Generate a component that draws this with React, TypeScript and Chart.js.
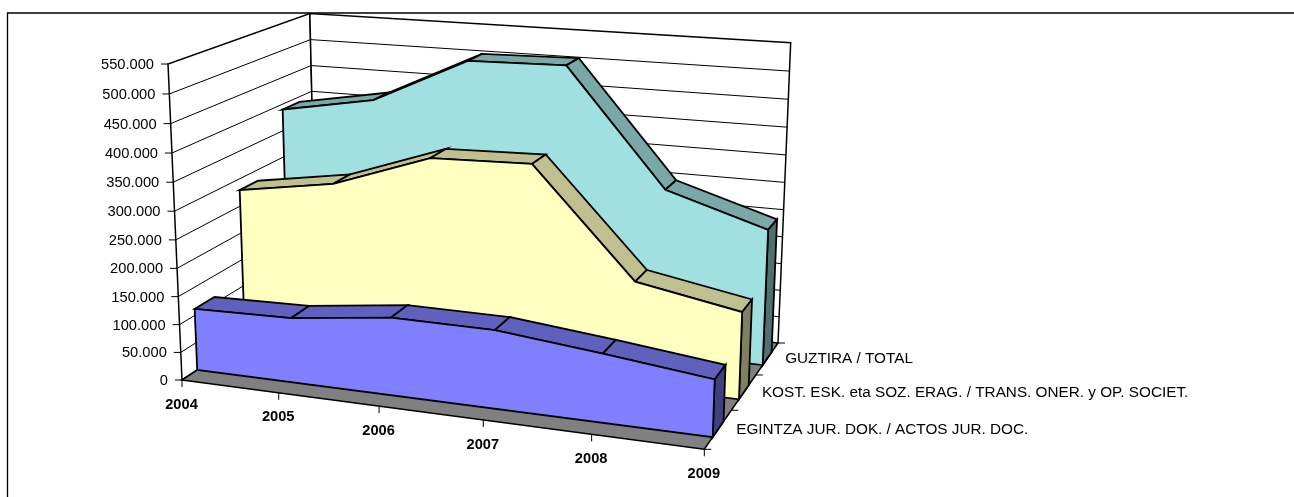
import React, { useEffect, useRef } from "react";
import { Chart, registerables } from "chart.js";

Chart.register(...registerables);

const years = ["2004", "2005", "2006", "2007", "2008", "2009"];
const egintza = [111500, 115500, 137000, 136500, 118000, 97000];
const kost = [279500, 307000, 368500, 373500, 186000, 153000];
const guztira = [390000, 421000, 505000, 509000, 301000, 246000];
const seriesNames = [
  "EGINTZA JUR. DOK. / ACTOS JUR. DOC.",
  "KOST. ESK. eta SOZ. ERAG. / TRANS. ONER. y OP. SOCIET.",
  "GUZTIRA / TOTAL",
];
const valueTicks = [0, 50000, 100000, 150000, 200000, 250000, 300000, 350000, 400000, 450000, 500000, 550000];
const valueTickLabels = ["0", "50.000", "100.000", "150.000", "200.000", "250.000", "300.000", "350.000", "400.000", "450.000", "500.000", "550.000"];

const W = 1294;
const H = 497;
const VMAX = 550000;
const FONT = '14.67px "Liberation Sans", Arial, sans-serif';
const FONT_SERIES = '15.3px "Liberation Sans", Arial, sans-serif';
const FONT_BOLD = 'bold 14.67px "Liberation Sans", Arial, sans-serif';

// box geometry: floor corners and the vanishing point of the vertical axis
const F00 = [182, 380];
const F10 = [704.3, 449.3];
const F11 = [778, 343];
const F01 = [316.6, 291];
const VP = [486.4, 7252];
const LAMBDA = -0.04396;

function makeProjection() {
  const [x0, y0] = F00, [x1, y1] = F10, [x2, y2] = F11, [x3, y3] = F01;
  const dx1 = x1 - x2, dx2 = x3 - x2, sx = x0 - x1 + x2 - x3;
  const dy1 = y1 - y2, dy2 = y3 - y2, sy = y0 - y1 + y2 - y3;
  const den = dx1 * dy2 - dx2 * dy1;
  const g = (sx * dy2 - dx2 * sy) / den;
  const h = (dx1 * sy - sx * dy1) / den;
  const a = x1 - x0 + g * x1, b = x3 - x0 + h * x3;
  const d = y1 - y0 + g * y1, e = y3 - y0 + h * y3;
  return (u: number, t: number, v: number) => {
    const z = (v / VMAX) * LAMBDA;
    const w = g * u + h * t + 1 + z;
    return {
      x: (a * u + b * t + x0 + z * VP[0]) / w,
      y: (d * u + e * t + y0 + z * VP[1]) / w,
    };
  };
}
const project = makeProjection();

type Layer = { pts: { x: number; y: number }[]; fill?: string; border: string; width: number };

function buildLayers(): Layer[] {
  const layers: Layer[] = [];
  const closed = (pts: { x: number; y: number }[]) => [...pts, pts[0], pts[1]];
  const last = years.length - 1;
  const uOf = (i: number) => i / last;

  // walls
  layers.push({ pts: closed([project(0, 0, 0), project(0, 1, 0), project(0, 1, VMAX), project(0, 0, VMAX)]), fill: "#ffffff", border: "#000000", width: 1.5 });
  layers.push({ pts: closed([project(0, 1, 0), project(1, 1, 0), project(1, 1, VMAX), project(0, 1, VMAX)]), fill: "#ffffff", border: "#000000", width: 1.5 });
  // grid
  valueTicks.slice(1, -1).forEach((t) => {
    layers.push({ pts: [project(0, 0, t), project(0, 1, t), project(1, 1, t)], border: "#000000", width: 1 });
  });
  // floor
  layers.push({ pts: closed([project(0, 0, 0), project(1, 0, 0), project(1, 1, 0), project(0, 1, 0)]), fill: "#808080", border: "#000000", width: 1.5 });

  const series = [
    { values: guztira, k: 2, face: "#A0E0E0", top: "#78A8A8", side: "#507070" },
    { values: kost, k: 1, face: "#FFFFC0", top: "#BFBF90", side: "#808060" },
    { values: egintza, k: 0, face: "#8080FF", top: "#6060BF", side: "#404080" },
  ];
  series.forEach(({ values, k, face, top, side }) => {
    const df = (k + 0.3) / 3;
    const db = (k + 0.7) / 3;
    for (let i = 0; i < last; i++) {
      layers.push({
        pts: closed([project(uOf(i), df, values[i]), project(uOf(i + 1), df, values[i + 1]), project(uOf(i + 1), db, values[i + 1]), project(uOf(i), db, values[i])]),
        fill: top, border: "#000000", width: 1.8,
      });
    }
    layers.push({
      pts: closed([project(1, df, 0), project(1, db, 0), project(1, db, values[last]), project(1, df, values[last])]),
      fill: side, border: "#000000", width: 1.8,
    });
    layers.push({
      pts: closed([project(0, df, 0), ...values.map((v, i) => project(uOf(i), df, v)), project(1, df, 0)]),
      fill: face, border: "#000000", width: 1.8,
    });
  });
  return layers;
}

const decor = {
  id: "decor",
  beforeDatasetsDraw(chart: any) {
    const c = chart.ctx;
    c.save();
    c.strokeStyle = "#000";
    c.lineWidth = 1.3;
    c.beginPath();
    c.moveTo(7.5, H);
    c.lineTo(7.5, 13);
    c.lineTo(W, 13);
    c.stroke();
    c.restore();
  },
  afterDatasetsDraw(chart: any) {
    const c = chart.ctx;
    c.save();
    c.strokeStyle = "#000";
    c.fillStyle = "#000";
    c.lineWidth = 1;
    const seg = (x1: number, y1: number, x2: number, y2: number) => {
      c.beginPath();
      c.moveTo(x1, y1);
      c.lineTo(x2, y2);
      c.stroke();
    };
    // value axis
    c.font = FONT;
    c.textAlign = "right";
    c.textBaseline = "middle";
    valueTicks.forEach((t, i) => {
      const p = project(0, 0, t);
      seg(p.x - 7, p.y, p.x, p.y);
      c.fillText(valueTickLabels[i], p.x - 14, p.y + 1);
    });
    // year axis
    c.font = FONT_BOLD;
    c.textAlign = "center";
    years.forEach((y, i) => {
      const p = project(i / (years.length - 1), 0, 0);
      seg(p.x, p.y, p.x, p.y + 7);
      c.fillText(y, p.x - 0.5, p.y + 24.5);
    });
    // depth axis
    c.font = FONT_SERIES;
    c.textAlign = "left";
    seriesNames.forEach((n, k) => {
      const m = project(1, (k + 0.5) / 3, 0);
      const e = project(1, (k + 1) / 3, 0);
      c.fillText(n, m.x + 18, m.y + 0.5);
      seg(e.x, e.y, e.x + 7, e.y);
    });
    const e0 = project(1, 0, 0);
    seg(e0.x, e0.y, e0.x + 7, e0.y);
    c.restore();
  },
};

export default function App() {
  const ref = useRef<HTMLCanvasElement>(null);
  useEffect(() => {
    const layers = buildLayers();
    const chart = new Chart(ref.current as HTMLCanvasElement, {
      type: "scatter",
      data: {
        datasets: layers.map((l, i) => ({
          data: l.pts,
          showLine: true,
          order: -i,
          tension: 0,
          fill: l.fill ? "shape" : false,
          backgroundColor: l.fill ?? "transparent",
          borderColor: l.border,
          borderWidth: l.width,
          pointRadius: 0,
          clip: false,
        })),
      } as any,
      options: {
        responsive: false,
        animation: false,
        layout: { padding: 0 },
        plugins: { legend: { display: false }, tooltip: { enabled: false } },
        scales: {
          x: { type: "linear", display: false, min: 0, max: W },
          y: { type: "linear", display: false, min: 0, max: H, reverse: true },
        },
      } as any,
      plugins: [decor],
    });
    return () => chart.destroy();
  }, []);
  return (
    <div style={{ position: "absolute", left: 0, top: 0, width: W, height: H, background: "#fff" }}>
      <canvas ref={ref} width={W} height={H} style={{ display: "block" }} />
    </div>
  );
}
